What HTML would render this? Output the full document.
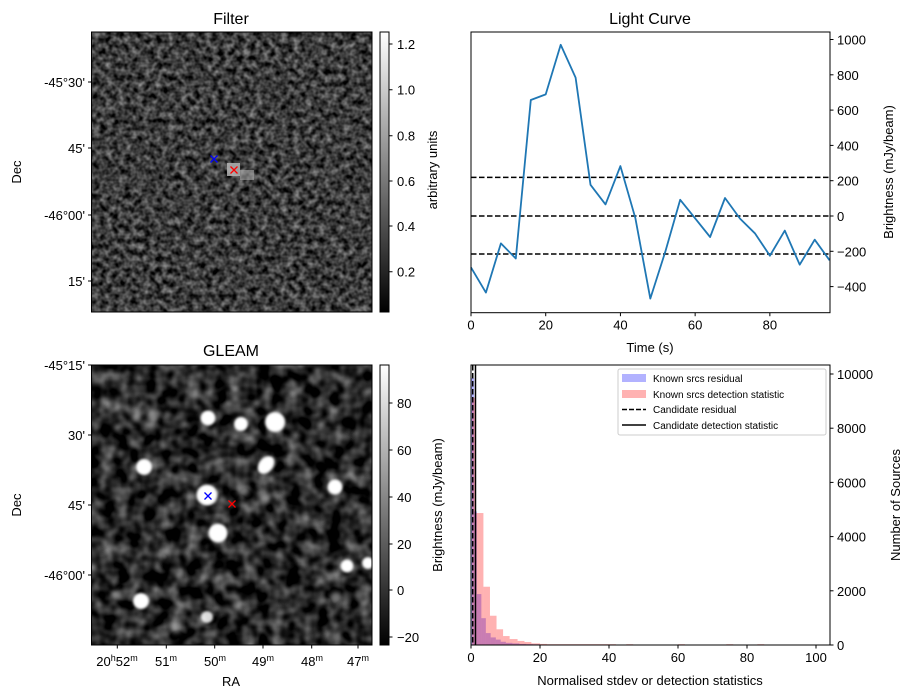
<!DOCTYPE html>
<html><head><meta charset="utf-8"><style>
html,body{margin:0;padding:0;background:#fff}
svg{display:block}
text{font-family:"Liberation Sans","DejaVu Sans",sans-serif;fill:#000}
</style></head><body>
<svg id="fig" width="913" height="699" viewBox="0 0 913 699" xmlns="http://www.w3.org/2000/svg">
<defs>
  <filter id="noiseF" x="0" y="0" width="100%" height="100%" color-interpolation-filters="sRGB">
    <feTurbulence type="fractalNoise" baseFrequency="0.16" numOctaves="2" seed="7"/>
    <feColorMatrix type="matrix" values="0.85 0 0 0 -0.19  0.85 0 0 0 -0.19  0.85 0 0 0 -0.19  0 0 0 0 1"/>
  </filter>
  <filter id="noiseG" x="0" y="0" width="100%" height="100%" color-interpolation-filters="sRGB">
    <feTurbulence type="fractalNoise" baseFrequency="0.07" numOctaves="2" seed="3"/>
    <feColorMatrix type="matrix" values="0.95 0 0 0 -0.32  0.95 0 0 0 -0.32  0.95 0 0 0 -0.32  0 0 0 0 1"/>
  </filter>
  <filter id="blur2"><feGaussianBlur stdDeviation="1.3"/></filter>
  <filter id="blur3"><feGaussianBlur stdDeviation="2.5"/></filter>
  <linearGradient id="cbar" x1="0" y1="1" x2="0" y2="0"><stop offset="0" stop-color="#000"/><stop offset="1" stop-color="#fff"/></linearGradient>
  <clipPath id="clipF"><rect x="91.5" y="32" width="280.5" height="280"/></clipPath>
  <clipPath id="clipG"><rect x="91.5" y="365" width="280.5" height="280"/></clipPath>
</defs>

<!-- Filter panel -->
<text x="231" y="24" font-size="16" text-anchor="middle">Filter</text>
<g clip-path="url(#clipF)">
  <rect x="91.5" y="32" width="280.5" height="280" fill="#333"/>
  <rect x="91.5" y="32" width="280.5" height="280" filter="url(#noiseF)"/>
  <rect x="227" y="163" width="13" height="13" fill="#bbb" opacity="0.8"/>
  <rect x="240" y="170" width="14" height="10" fill="#aaa" opacity="0.6"/>
</g>
<rect x="91.5" y="32" width="280.5" height="280" fill="none" stroke="#000" stroke-width="1"/>
<g stroke-width="1.3">
  <path d="M210.5 155.5 l7 7 M217.5 155.5 l-7 7" stroke="#00f"/>
  <path d="M230.5 166.5 l7 7 M237.5 166.5 l-7 7" stroke="#f00"/>
</g>
<g font-size="13" text-anchor="end">
  <text x="85" y="87">-45°30'</text><text x="85" y="153">45'</text>
  <text x="85" y="220">-46°00'</text><text x="85" y="286">15'</text>
  <path d="M88 82h3.5M88 148h3.5M88 215h3.5M88 281h3.5" stroke="#000"/>
</g>
<text transform="translate(21,172) rotate(-90)" font-size="13" text-anchor="middle">Dec</text>
<rect x="380" y="32" width="9" height="280" fill="url(#cbar)" stroke="#000" stroke-width="1"/>
<g font-size="13">
  <path d="M389 44h3.5M389 89.7h3.5M389 135.7h3.5M389 181h3.5M389 226h3.5M389 271.7h3.5" stroke="#000"/>
  <text x="397" y="49">1.2</text><text x="397" y="94.7">1.0</text><text x="397" y="140.7">0.8</text>
  <text x="397" y="186">0.6</text><text x="397" y="231">0.4</text><text x="397" y="276.7">0.2</text>
</g>
<text transform="translate(437,170) rotate(-90)" font-size="13" text-anchor="middle">arbitrary units</text>

<!-- GLEAM panel -->
<text x="231" y="356" font-size="16" text-anchor="middle">GLEAM</text>
<g clip-path="url(#clipG)">
  <rect x="91.5" y="365" width="280.5" height="280" fill="#2a2a2a"/>
  <rect x="91.5" y="365" width="280.5" height="280" filter="url(#noiseG)"/>
  <g fill="#fff" filter="url(#blur2)">
    <circle cx="208" cy="418" r="7.5"/><circle cx="241" cy="424" r="7"/><circle cx="275" cy="422" r="10"/>
    <circle cx="144" cy="467" r="8"/><ellipse cx="266" cy="465" rx="7" ry="10" transform="rotate(40 266 465)"/>
    <circle cx="207" cy="495" r="10.5"/><circle cx="218" cy="533" r="9.5"/><circle cx="335" cy="487" r="7.5"/>
    <circle cx="347" cy="566" r="6.5"/><circle cx="368" cy="563" r="6"/><circle cx="141" cy="601" r="8"/>
    <circle cx="207" cy="617" r="6" opacity="0.85"/>
  </g>
  <g fill="#fff" filter="url(#blur3)" opacity="0.45">
    <circle cx="176" cy="627" r="6"/><circle cx="243" cy="490" r="6"/><circle cx="264" cy="497" r="5"/>
    <circle cx="163" cy="553" r="6"/><circle cx="153" cy="416" r="6"/><circle cx="137" cy="416" r="5"/>
    <circle cx="336" cy="598" r="6"/><circle cx="117" cy="595" r="5"/>
  </g>
</g>
<rect x="91.5" y="365" width="280.5" height="280" fill="none" stroke="#000" stroke-width="1"/>
<g stroke-width="1.3">
  <path d="M204.5 492.5 l7 7 M211.5 492.5 l-7 7" stroke="#00f"/>
  <path d="M228.5 500.5 l7 7 M235.5 500.5 l-7 7" stroke="#f00"/>
</g>
<g font-size="13" text-anchor="end">
  <text x="85" y="370">-45°15'</text><text x="85" y="440">30'</text>
  <text x="85" y="510">45'</text><text x="85" y="580">-46°00'</text>
  <path d="M88 365h3.5M88 435h3.5M88 505h3.5M88 575h3.5" stroke="#000"/>
</g>
<g font-size="13" text-anchor="middle">
  <path d="M117.3 645v3.5M166.3 645v3.5M214.7 645v3.5M263 645v3.5M311.7 645v3.5M358 645v3.5" stroke="#000"/>
  <text x="117" y="666">20<tspan font-size="9" dy="-5">h</tspan><tspan dy="5">52</tspan><tspan font-size="9" dy="-5">m</tspan></text>
  <text x="166" y="666">51<tspan font-size="9" dy="-5">m</tspan></text>
  <text x="215" y="666">50<tspan font-size="9" dy="-5">m</tspan></text>
  <text x="263" y="666">49<tspan font-size="9" dy="-5">m</tspan></text>
  <text x="312" y="666">48<tspan font-size="9" dy="-5">m</tspan></text>
  <text x="358" y="666">47<tspan font-size="9" dy="-5">m</tspan></text>
</g>
<text x="231" y="686" font-size="13" text-anchor="middle">RA</text>
<text transform="translate(21,505) rotate(-90)" font-size="13" text-anchor="middle">Dec</text>
<rect x="380" y="365" width="9" height="280" fill="url(#cbar)" stroke="#000" stroke-width="1"/>
<g font-size="13">
  <path d="M389 403h3.5M389 450h3.5M389 497h3.5M389 544h3.5M389 590h3.5M389 637h3.5" stroke="#000"/>
  <text x="397" y="408">80</text><text x="397" y="455">60</text><text x="397" y="502">40</text>
  <text x="397" y="549">20</text><text x="397" y="595">0</text><text x="397" y="642">−20</text>
</g>
<text transform="translate(442,505) rotate(-90)" font-size="13" text-anchor="middle">Brightness (mJy/beam)</text>

<!-- Light curve -->
<text x="650" y="24" font-size="16" text-anchor="middle">Light Curve</text>
<g id="lc"></g>
<text x="650" y="352" font-size="13" text-anchor="middle">Time (s)</text>
<text transform="translate(893,172) rotate(-90)" font-size="13" text-anchor="middle">Brightness (mJy/beam)</text>

<!-- Histogram -->
<g id="hist"></g>
<text x="650" y="685" font-size="13" text-anchor="middle">Normalised stdev or detection statistics</text>
<text transform="translate(900,505) rotate(-90)" font-size="13" text-anchor="middle">Number of Sources</text>
<g font-size="10">
  <rect x="618" y="369" width="208" height="66" fill="#fff" stroke="#ccc" rx="2"/>
  <rect x="622" y="374" width="24" height="8" fill="#0000ff" opacity="0.3"/>
  <text x="653" y="382">Known srcs residual</text>
  <rect x="622" y="390" width="24" height="8" fill="#ff0000" opacity="0.3"/>
  <text x="653" y="398">Known srcs detection statistic</text>
  <path d="M622 409.5h24" stroke="#000" stroke-width="1.5" stroke-dasharray="5,2"/>
  <text x="653" y="413">Candidate residual</text>
  <path d="M622 425h24" stroke="#000" stroke-width="1.5"/>
  <text x="653" y="429">Candidate detection statistic</text>
</g>
</svg>
<script>
// ---- Light curve data ----
const lcTimes = [0,4,8,12,16,20,24,28,32,36,40,44,48,52,56,60,64,68,72,76,80,84,88,92,96];
const lcFlux = [-291,-434,-155,-241,657,689,970,784,177,66,283,-13,-468,-202,92,-13,-119,102,-15,-98,-225,-83,-276,-134,-251];
const lcThresholds = [219,0,-215];
const lcXTicks = [0,20,40,60,80];
const lcYTicks = [-400,-200,0,200,400,600,800,1000];

// ---- Histogram data ----
const redEdges = [0.3,1.4,3.6,5.5,7.4,9.3,11.2,13.5,15.5,17.5,20,22,24,26,28,40,45,60,74,83,97];
const redCounts = [9125,4870,2150,1080,580,330,220,150,110,60,40,30,30,30,30,30,30,30,30,30];
const blueEdges = [0,0.9,1.7,3.0,4.3,5.7,7.2,8.6,10.1,12,14,16,18,20];
const blueCounts = [9850,4930,1880,990,440,280,200,120,80,60,40,30,25];
const candResidual = [0.5];
const candDetection = [1.3];
const histXTicks = [0,20,40,60,80,100];
const histYTicks = [0,2000,4000,6000,8000,10000];

const NS = 'http://www.w3.org/2000/svg';
function mk(tag, attrs, parent){ const e=document.createElementNS(NS,tag); for(const k in attrs) e.setAttribute(k,attrs[k]); parent.appendChild(e); return e; }

const lcL=471, lcR=830, lcT=32, lcB=312.7;
const lcX = t => lcL + t*(lcR-lcL)/96.1;
const lcY = v => 216 - v*35.3/200;
const lc = document.getElementById('lc');
lcThresholds.forEach((v,i)=>{
  const l=mk('line',{x1:lcL,x2:lcR,y1:lcY(v),y2:lcY(v),stroke:'#000','stroke-width':1.5,'stroke-dasharray':'5.5,2.5'},lc);
  
  
});
const pts = lcTimes.map((t,i)=>lcX(t).toFixed(1)+','+lcY(lcFlux[i]).toFixed(1)).join(' ');
const pl = mk('polyline',{points:pts,fill:'none',stroke:'#1f77b4','stroke-width':1.8,'stroke-linejoin':'round'},lc);


const lcFrame = mk('rect',{x:lcL,y:lcT,width:lcR-lcL,height:lcB-lcT,fill:'none',stroke:'#000','stroke-width':1},lc);


lcXTicks.forEach(t=>{
  mk('line',{x1:lcX(t),x2:lcX(t),y1:lcB,y2:lcB+3.5,stroke:'#000'},lc);
  const tx=mk('text',{x:lcX(t),y:lcB+17,'font-size':13,'text-anchor':'middle'},lc); tx.textContent=t;
  
  
});
lcYTicks.forEach(v=>{
  mk('line',{x1:lcR,x2:lcR+3.5,y1:lcY(v),y2:lcY(v),stroke:'#000'},lc);
  const tx=mk('text',{x:lcR+7,y:lcY(v)+5,'font-size':13},lc); tx.textContent=(v<0?'−'+(-v):v);
  
  
});

const hL=471, hR=830, hT=365, hB=645;
const hX = v => hL + v*69/20;
const hY = c => hB - c*54.2/2000;
const hist = document.getElementById('hist');
blueCounts.forEach((c,i)=>{
  const r=mk('rect',{x:hX(blueEdges[i]),y:hY(c),width:hX(blueEdges[i+1])-hX(blueEdges[i]),height:hB-hY(c),fill:'#0000ff','fill-opacity':0.3},hist);
  
  
});
redCounts.forEach((c,i)=>{
  let w = hX(redEdges[i+1])-hX(redEdges[i]);
  if(i>=15) w = 2*69/20;
  const r=mk('rect',{x:hX(redEdges[i]),y:hY(c),width:w,height:hB-hY(c),fill:'#ff0000','fill-opacity':0.3},hist);
  
  
});
candResidual.forEach(v=>{
  const l=mk('line',{x1:hX(v),x2:hX(v),y1:hT,y2:hB,stroke:'#000','stroke-width':1.5,'stroke-dasharray':'5.5,2.5'},hist);
  
  
});
candDetection.forEach(v=>{
  const l=mk('line',{x1:hX(v),x2:hX(v),y1:hT,y2:hB,stroke:'#000','stroke-width':1.5},hist);
  
  
});
const hFrame = mk('rect',{x:hL,y:hT,width:hR-hL,height:hB-hT,fill:'none',stroke:'#000','stroke-width':1},hist);


histXTicks.forEach(t=>{
  mk('line',{x1:hX(t),x2:hX(t),y1:hB,y2:hB+3.5,stroke:'#000'},hist);
  const tx=mk('text',{x:hX(t),y:hB+17,'font-size':13,'text-anchor':'middle'},hist); tx.textContent=t;
  
  
});
histYTicks.forEach(v=>{
  mk('line',{x1:hR,x2:hR+3.5,y1:hY(v),y2:hY(v),stroke:'#000'},hist);
  const tx=mk('text',{x:hR+7,y:hY(v)+5,'font-size':13},hist); tx.textContent=v;
  
  
});
</script>
</body></html>
